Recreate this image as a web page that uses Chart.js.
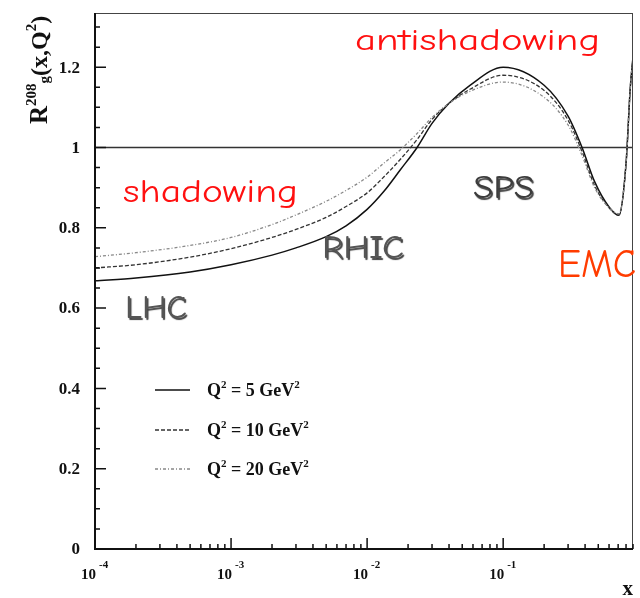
<!DOCTYPE html>
<html>
<head>
<meta charset="utf-8">
<script src="https://cdn.jsdelivr.net/npm/chart.js@4.4.0/dist/chart.umd.min.js"></script>
<style>
  body { margin: 0; background: #fff; }
  canvas { display: block; }
</style>
</head>
<body>
<canvas id="ratio" width="640" height="598"></canvas>
<script>
// gluon ratio in lead vs x, three scales
var xValues = [1e-4, 2e-4, 5e-4, 1e-3, 2e-3, 3e-3, 5e-3, 7e-3, 0.01, 0.0133, 0.0175, 0.0233, 0.03, 0.04, 0.057, 0.1, 0.2, 0.3, 0.38, 0.47, 0.6, 0.71, 0.8, 0.86, 0.9];
var rQ5  = [0.668, 0.675, 0.690, 0.708, 0.732, 0.750, 0.778, 0.805, 0.846, 0.891, 0.944, 1.000, 1.060, 1.110, 1.155, 1.200, 1.155, 1.078, 1.000, 0.915, 0.852, 0.831, 0.960, 1.150, 1.225];
var rQ10 = [0.700, 0.708, 0.727, 0.748, 0.776, 0.796, 0.826, 0.853, 0.887, 0.927, 0.970, 1.020, 1.070, 1.110, 1.145, 1.180, 1.142, 1.068, 0.990, 0.905, 0.850, 0.832, 0.960, 1.150, 1.225];
var rQ20 = [0.728, 0.738, 0.756, 0.776, 0.808, 0.832, 0.866, 0.893, 0.926, 0.961, 0.994, 1.035, 1.075, 1.110, 1.140, 1.163, 1.125, 1.056, 0.980, 0.900, 0.850, 0.835, 0.960, 1.150, 1.225];
var q2Labels = ['5', '10', '20'];
var yTickLabels = [0, 0.2, 0.4, 0.6, 0.8, 1, 1.2];
var xTickExps = [-4, -3, -2, -1];

var lineStyles = [
    { color: '#111', width: 1.5, dash: [] },
    { color: '#333', width: 1.3, dash: [4, 2] },
    { color: '#888', width: 1.3, dash: [3, 2, 1, 2] }
];

function points(ys) {
    return xValues.map(function(x, i) { return { x: x, y: ys[i] }; });
}

// draw a run of text pieces (font, vertical shift) left to right
function rich(ctx, x, y, parts) {
    parts.forEach(function(p) {
        ctx.font = p[1];
        ctx.fillText(p[0], x, y + (p[2] || 0));
        x += ctx.measureText(p[0]).width;
    });
    return x;
}

// annotation words, stretched to their box width
function tag(ctx, text, left, base, width, size, color, shadow) {
    ctx.save();
    ctx.font = size + 'px "Comic Sans MS", "Comic Neue", "DejaVu Sans", sans-serif';
    var w = ctx.measureText(text).width;
    ctx.translate(left, base);
    ctx.scale(width / w, 1);
    if (shadow) {
        ctx.shadowColor = 'rgba(0,0,0,0.75)';
        ctx.shadowOffsetX = 1.5;
        ctx.shadowOffsetY = 1.5;
        ctx.shadowBlur = 1;
    }
    ctx.fillStyle = color;
    ctx.textAlign = 'left';
    ctx.textBaseline = 'alphabetic';
    ctx.fillText(text, 0, 0);
    ctx.restore();
}

var frame = {
    id: 'frame',
    beforeDatasetsDraw: function(chart) {
        var ctx = chart.ctx, a = chart.chartArea, y1 = chart.scales.y.getPixelForValue(1);
        ctx.save();
        ctx.strokeStyle = '#333';
        ctx.lineWidth = 1.5;
        ctx.beginPath();
        ctx.moveTo(a.left, y1);
        ctx.lineTo(a.right, y1);
        ctx.stroke();
        ctx.restore();
    },
    afterDraw: function(chart) {
        var ctx = chart.ctx, a = chart.chartArea;
        var xs = chart.scales.x, ys = chart.scales.y;
        ctx.save();

        // box
        ctx.strokeStyle = '#444';
        ctx.lineWidth = 1;
        ctx.beginPath();
        ctx.moveTo(a.left, a.top + 0.5); ctx.lineTo(a.right, a.top + 0.5);
        ctx.moveTo(a.right - 0.5, a.top); ctx.lineTo(a.right - 0.5, a.bottom);
        ctx.stroke();
        ctx.strokeStyle = '#111';
        ctx.lineWidth = 2;
        ctx.beginPath();
        ctx.moveTo(a.left, a.top); ctx.lineTo(a.left, a.bottom);
        ctx.lineTo(a.right, a.bottom);
        ctx.stroke();

        // y ticks, minor every 0.05
        ctx.lineWidth = 1.5;
        ctx.beginPath();
        for (var i = 0; i * 0.05 <= ys.max; i++) {
            var py = ys.getPixelForValue(i * 0.05);
            ctx.moveTo(a.left, py);
            ctx.lineTo(a.left + (i % 4 === 0 ? 11 : 5), py);
        }
        // x ticks, 1..9 per decade
        xTickExps.forEach(function(e) {
            for (var m = 1; m <= 9; m++) {
                var v = m * Math.pow(10, e);
                if (v > xs.max * 1.0001) continue;
                var px = xs.getPixelForValue(v);
                ctx.moveTo(px, a.bottom);
                ctx.lineTo(px, a.bottom - (m === 1 ? 11 : 5));
            }
        });
        ctx.stroke();

        ctx.fillStyle = '#111';
        ctx.textBaseline = 'middle';
        ctx.textAlign = 'right';
        ctx.font = 'bold 17px "Liberation Serif", serif';
        yTickLabels.forEach(function(v) {
            ctx.fillText(String(v), a.left - 15, ys.getPixelForValue(v) + 1);
        });

        ctx.textBaseline = 'alphabetic';
        xTickExps.forEach(function(e) {
            var px = xs.getPixelForValue(Math.pow(10, e));
            ctx.textAlign = 'right';
            ctx.font = 'bold 15px "Liberation Serif", serif';
            ctx.fillText('10', px + 1, 579);
            ctx.textAlign = 'left';
            ctx.font = 'bold 11px "Liberation Serif", serif';
            ctx.fillText(String(e), px + 4, 568);
        });

        ctx.textAlign = 'right';
        ctx.font = 'bold 21px "Liberation Serif", serif';
        ctx.fillText('x', a.right, 595);

        // axis title, rotated
        ctx.save();
        ctx.translate(47, 124);
        ctx.rotate(-Math.PI / 2);
        ctx.textAlign = 'left';
        var serif = '"Liberation Serif", serif';
        rich(ctx, 0, 0, [
            ['R', 'bold 25px ' + serif],
            ['208', 'bold 15px ' + serif, -11],
            ['g', 'bold 15px ' + serif, 2],
            ['(x,Q', 'bold 24px ' + serif],
            ['2', 'bold 15px ' + serif, -11],
            [')', 'bold 24px ' + serif]
        ]);
        ctx.restore();

        // legend
        var rows = [390, 430, 469];
        rows.forEach(function(ry, k) {
            var st = lineStyles[k];
            ctx.strokeStyle = st.color;
            ctx.lineWidth = st.width;
            ctx.setLineDash(st.dash);
            ctx.beginPath();
            ctx.moveTo(155, ry);
            ctx.lineTo(190, ry);
            ctx.stroke();
            ctx.setLineDash([]);
            ctx.fillStyle = '#111';
            ctx.textAlign = 'left';
            rich(ctx, 207, ry + 6, [
                ['Q', 'bold 18px ' + serif],
                ['2', 'bold 11px ' + serif, -8],
                [' = ' + q2Labels[k] + ' GeV', 'bold 18px ' + serif],
                ['2', 'bold 11px ' + serif, -8]
            ]);
        });

        // region labels
        tag(ctx, 'antishadowing', 355, 50, 245, 31, '#ff1010', false);
        tag(ctx, 'shadowing', 123, 202, 175, 32, '#ff1010', false);
        tag(ctx, 'SPS', 473, 198, 61, 33, '#3c3c3c', true);
        tag(ctx, 'RHIC', 322, 258, 82, 33, '#555', true);
        tag(ctx, 'LHC', 125, 318, 62, 33, '#555', true);
        tag(ctx, 'EMC', 558, 277, 78, 40, '#ff3c00', false);

        ctx.restore();
    }
};

var series = [rQ5, rQ10, rQ20];
new Chart(document.getElementById('ratio'), {
    type: 'line',
    data: {
        datasets: series.map(function(ys, k) {
            return {
                label: 'Q2 = ' + q2Labels[k] + ' GeV2',
                data: points(ys),
                borderColor: lineStyles[k].color,
                borderWidth: lineStyles[k].width,
                borderDash: lineStyles[k].dash,
                pointRadius: 0,
                fill: false,
                cubicInterpolationMode: 'monotone'
            };
        }).reverse()
    },
    options: {
        responsive: false,
        animation: false,
        layout: { padding: { left: 95, top: 13, right: 7, bottom: 49 } },
        plugins: { legend: { display: false }, tooltip: { enabled: false } },
        scales: {
            x: { type: 'logarithmic', min: 1e-4, max: 0.9, display: false },
            y: { type: 'linear', min: 0, max: 1.335, display: false }
        }
    },
    plugins: [frame]
});
</script>
</body>
</html>
